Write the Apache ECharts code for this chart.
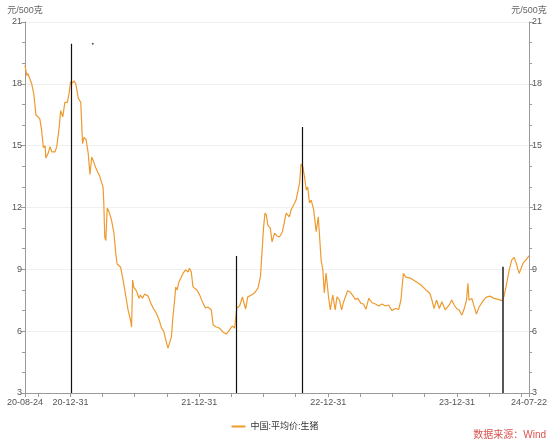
<!DOCTYPE html>
<html><head><meta charset="utf-8">
<script src="https://cdn.jsdelivr.net/npm/echarts@6/dist/echarts.min.js"></script>
<style>html,body{margin:0;padding:0;background:#fff}#c{width:550px;height:441px}</style>
</head><body><div id="c"></div>
<script>
var startDate = '2020-08-24';
var endDate = '2024-07-22';
var seriesName = '中国:平均价:生猪';
var unitName = '元/500克';
var sourceText = '数据来源：Wind';
var yTicks = [3, 6, 9, 12, 15, 18, 21];

var priceDates = [
'2020-08-24','2020-08-29','2020-09-01','2020-09-12','2020-09-18','2020-09-24','2020-10-05','2020-10-10','2020-10-15','2020-10-20',
'2020-10-22','2020-10-29','2020-11-03','2020-11-08','2020-11-17','2020-11-22','2020-11-29','2020-12-03','2020-12-09','2020-12-15',
'2020-12-22','2020-12-27','2020-12-31','2021-01-06','2021-01-10','2021-01-15','2021-01-22','2021-01-29','2021-02-03','2021-02-07',
'2021-02-13','2021-02-19','2021-02-24','2021-03-01','2021-03-07','2021-03-13','2021-03-24','2021-04-02','2021-04-04','2021-04-07',
'2021-04-10','2021-04-14','2021-04-19','2021-04-26','2021-05-03','2021-05-08','2021-05-12','2021-05-22','2021-05-29','2021-06-06',
'2021-06-12','2021-06-19','2021-06-22','2021-06-25','2021-06-28','2021-07-04','2021-07-08','2021-07-13','2021-07-17','2021-07-23',
'2021-07-29','2021-08-08','2021-08-14','2021-08-22','2021-08-31','2021-09-08','2021-09-15','2021-09-21','2021-09-27','2021-10-03',
'2021-10-08','2021-10-13','2021-10-17','2021-10-22','2021-10-25','2021-10-29','2021-11-03','2021-11-10','2021-11-15','2021-11-22',
'2021-11-29','2021-12-03','2021-12-08','2021-12-13','2021-12-18','2021-12-24','2022-01-01','2022-01-10','2022-01-18','2022-01-24',
'2022-02-03','2022-02-08','2022-02-17','2022-02-26','2022-03-08','2022-03-17','2022-03-27','2022-04-03','2022-04-10','2022-04-15',
'2022-04-16','2022-04-24','2022-05-02','2022-05-08','2022-05-11','2022-05-17','2022-05-27','2022-06-05','2022-06-15','2022-06-22',
'2022-06-27','2022-07-01','2022-07-05','2022-07-09','2022-07-13','2022-07-20','2022-07-25','2022-08-01','2022-08-08','2022-08-15',
'2022-08-23','2022-08-29','2022-09-03','2022-09-12','2022-09-17','2022-09-27','2022-10-01','2022-10-06','2022-10-11','2022-10-15',
'2022-10-20','2022-10-25','2022-10-30','2022-11-03','2022-11-08','2022-11-13','2022-11-20','2022-11-27','2022-12-03','2022-12-11',
'2022-12-16','2022-12-20','2022-12-25','2023-01-01','2023-01-06','2023-01-13','2023-01-20','2023-01-25','2023-02-01','2023-02-07',
'2023-02-13','2023-02-24','2023-03-03','2023-03-10','2023-03-18','2023-03-25','2023-04-03','2023-04-10','2023-04-17','2023-04-25',
'2023-05-04','2023-05-14','2023-05-23','2023-06-02','2023-06-11','2023-06-20','2023-06-30','2023-07-09','2023-07-19','2023-07-25',
'2023-08-01','2023-08-08','2023-08-23','2023-09-06','2023-09-20','2023-10-04','2023-10-15','2023-10-21','2023-10-27','2023-11-03',
'2023-11-11','2023-11-18','2023-11-28','2023-12-09','2023-12-16','2023-12-23','2023-12-30','2024-01-06','2024-01-14','2024-01-20',
'2024-01-27','2024-01-31','2024-02-03','2024-02-11','2024-02-18','2024-02-24','2024-03-03','2024-03-12','2024-03-22','2024-04-02',
'2024-04-14','2024-04-26','2024-05-06','2024-05-12','2024-05-19','2024-05-27','2024-06-03','2024-06-10','2024-06-16','2024-06-24',
'2024-06-28','2024-07-05','2024-07-13','2024-07-22'
];
var priceValues = [
18.9,18.4,18.5,18.0,17.5,16.5,16.3,15.75,14.9,15.0,
14.4,14.65,14.95,14.7,14.7,14.95,15.9,16.7,16.4,17.1,
17.1,17.55,18.1,18.05,18.15,18.0,17.3,17.1,15.1,15.4,
15.3,14.65,13.6,14.45,14.2,13.9,13.5,13.0,12.36,10.57,
10.4,11.97,11.8,11.4,10.76,9.8,9.26,9.1,8.48,7.66,
7.03,6.54,6.2,8.48,8.14,8.0,7.85,7.6,7.75,7.6,
7.8,7.7,7.41,7.12,6.88,6.54,6.15,6.0,5.57,5.18,
5.13,5.72,6.69,7.5,8.14,8.0,8.38,8.63,8.82,8.97,
8.87,9.05,8.88,8.15,8.24,8.0,7.75,7.36,7.12,7.17,
7.03,6.3,6.2,6.15,5.96,5.86,6.06,6.25,6.15,6.2,
7.12,7.22,7.66,7.27,7.07,7.66,7.75,7.85,8.09,8.63,
9.94,11.05,11.73,11.63,11.15,11.0,10.33,10.76,10.62,10.57,
10.81,11.3,11.73,11.55,11.88,12.22,12.36,12.77,13.19,14.1,
13.98,13.49,12.85,13.0,12.22,12.36,11.88,10.83,11.55,9.45,
8.97,7.85,8.82,7.67,7.03,7.75,7.03,7.67,7.51,7.03,
7.43,7.96,7.91,7.75,7.54,7.59,7.35,7.32,7.06,7.59,
7.38,7.32,7.22,7.32,7.22,7.27,7.0,7.1,7.06,7.5,
8.8,8.62,8.56,8.4,8.24,8.0,7.84,7.51,7.1,7.51,
7.1,7.43,7.03,7.27,7.51,7.27,7.1,7.03,6.78,7.06,
7.51,8.32,7.51,7.59,7.18,6.83,7.18,7.43,7.64,7.7,
7.59,7.54,7.48,7.67,8.24,8.97,9.45,9.58,9.29,8.8,
8.97,9.29,9.45,9.65
];

// vertical annotation lines
var eventDates = ['2021-01-03', '2022-04-15', '2022-10-18', '2024-05-08'];
var eventTops = [19.95, 9.65, 15.9, 9.13];
var dotDates = ['2021-03-04'];
var dotValues = [19.95];

// build daily category list
function fmt(d) {
  var m = d.getUTCMonth() + 1, day = d.getUTCDate();
  return d.getUTCFullYear() + '-' + (m < 10 ? '0' : '') + m + '-' + (day < 10 ? '0' : '') + day;
}
var categories = [];
(function () {
  var d = new Date(startDate + 'T00:00:00Z');
  var e = new Date(endDate + 'T00:00:00Z');
  while (d <= e) { categories.push(fmt(d)); d = new Date(d.getTime() + 86400000); }
})();
var lastIdx = categories.length - 1;

var lineData = priceDates.map(function (d, i) { return [d, priceValues[i]]; });
var markData = eventDates.map(function (d, i) {
  return [
    { coord: [d, yTicks[0]], lineStyle: { color: i === 3 ? '#444' : '#111', width: i === 3 ? 1.8 : 1.2, type: 'solid' } },
    { coord: [d, eventTops[i]] }
  ];
});
var dotData = dotDates.map(function (d, i) { return [d, dotValues[i]]; });

var FONT = 'Liberation Sans, "Noto Sans CJK SC", sans-serif';
function yAxis(pos) {
  return {
    type: 'value', position: pos, min: yTicks[0], max: yTicks[yTicks.length - 1], interval: 3,
    name: unitName, nameLocation: 'end', nameGap: 7,
    nameTextStyle: { color: '#666', fontSize: 9, fontFamily: FONT, align: 'center' },
    axisLine: { show: true, lineStyle: { color: '#9a9a9a', width: 1 } },
    axisTick: { show: true, length: 4, lineStyle: { color: '#9a9a9a' } },
    minorTick: { show: true, splitNumber: 3, length: 3, lineStyle: { color: '#9a9a9a' } },
    axisLabel: { color: '#555', fontSize: 9, fontFamily: FONT, margin: 3 },
    splitLine: { show: pos === 'left', lineStyle: { color: '#f0f0f0', width: 1 } }
  };
}

var chart = echarts.init(document.getElementById('c'), null, { renderer: 'canvas' });
chart.setOption({
  animation: false,
  backgroundColor: '#fff',
  grid: { left: 25, right: 20, top: 22, bottom: 48, containLabel: false },
  legend: {
    data: [seriesName], left: 'center', top: 417, icon: 'rect', itemWidth: 14, itemHeight: 2,
    itemGap: 4, textStyle: { fontSize: 9, color: '#333', fontFamily: FONT }
  },
  xAxis: {
    type: 'category', data: categories, boundaryGap: false,
    axisLine: { show: true, lineStyle: { color: '#9a9a9a' } },
    axisTick: {
      show: true, length: 4, lineStyle: { color: '#9a9a9a' },
      interval: function (i, v) { return i === 0 || i === lastIdx || /-(03-31|06-30|09-30|12-31)$/.test(v); }
    },
    axisLabel: {
      color: '#555', fontSize: 9, fontFamily: FONT, margin: 5, hideOverlap: false,
      interval: function (i, v) { return i === 0 || i === lastIdx || /-12-31$/.test(v); },
      formatter: function (v) { return v.slice(2); }
    },
    splitLine: { show: false }
  },
  yAxis: [yAxis('left'), yAxis('right')],
  series: [
    {
      name: seriesName, type: 'line', data: lineData, showSymbol: false, symbol: 'none',
      lineStyle: { color: '#EE9A2E', width: 1.2 }, itemStyle: { color: '#EE9A2E' },
      markLine: { silent: true, symbol: 'none', label: { show: false }, data: markData, animation: false }
    },
    {
      name: 'dot', type: 'scatter', data: dotData, symbolSize: 2, itemStyle: { color: '#333' }, silent: true
    }
  ],
  graphic: [{
    type: 'text', right: 4, top: 430,
    style: { text: sourceText, fill: '#D9534F', fontSize: 10, fontFamily: FONT }
  }]
});
</script></body></html>
